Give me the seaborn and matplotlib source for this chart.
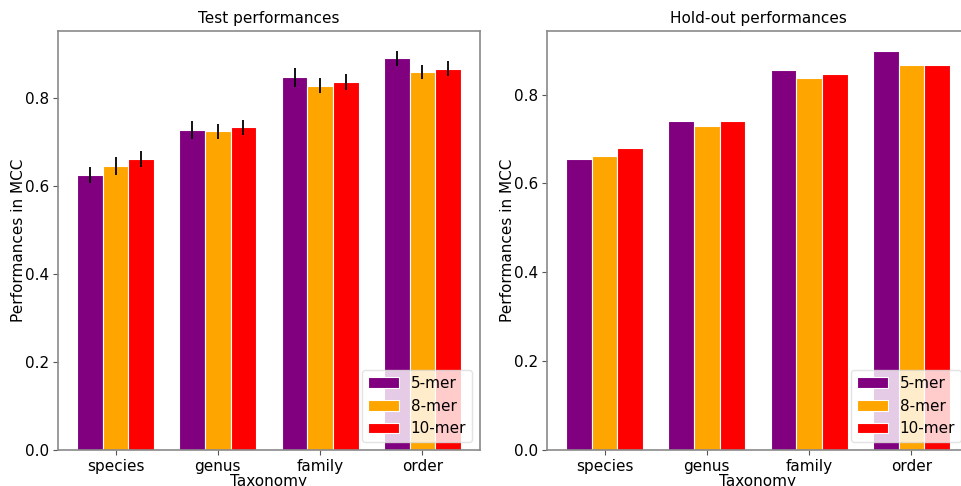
import numpy as np
import pandas as pd
import matplotlib
matplotlib.use("Agg")
import matplotlib.pyplot as plt
import seaborn as sns

# Taxonomic levels and k-mer sizes
taxonomy = ["species", "genus", "family", "order"]
kmers = ["5-mer", "8-mer", "10-mer"]
colors = ["#800080", "#FFA500", "#FF0000"]

# Test set: mean MCC and standard deviation per k-mer size
test_5mer = [0.624, 0.727, 0.846, 0.889]
test_8mer = [0.645, 0.724, 0.827, 0.858]
test_10mer = [0.660, 0.733, 0.836, 0.866]
test_err_5mer = [0.018, 0.020, 0.021, 0.017]
test_err_8mer = [0.020, 0.017, 0.017, 0.016]
test_err_10mer = [0.018, 0.017, 0.018, 0.018]

# Hold-out set: MCC per k-mer size
hold_5mer = [0.654, 0.741, 0.855, 0.898]
hold_8mer = [0.661, 0.728, 0.837, 0.866]
hold_10mer = [0.680, 0.740, 0.847, 0.866]


def long_table(v5, v8, v10):
    rows = []
    for k, vals in zip(kmers, [v5, v8, v10]):
        for t, v in zip(taxonomy, vals):
            rows.append({"Taxonomy": t, "k": k, "MCC": v})
    return pd.DataFrame(rows)


sns.set_style("white")
plt.rcParams["font.family"] = ["DejaVu Sans"]
plt.rcParams["font.size"] = 11
plt.rcParams["text.color"] = "black"
plt.rcParams["axes.labelcolor"] = "black"
plt.rcParams["xtick.color"] = "black"
plt.rcParams["ytick.color"] = "black"

fig = plt.figure(figsize=(9.62, 4.86), dpi=100)
W, H = 962, 486
ax1 = fig.add_axes([58 / W, 36 / H, 422 / W, 419 / H])
ax2 = fig.add_axes([547 / W, 36 / H, 422 / W, 419 / H])

width = 0.75
offsets = np.array([-1, 0, 1]) * width / 3


def draw(ax, df, title, errs=None, vals=None):
    sns.barplot(data=df, x="Taxonomy", y="MCC", hue="k", order=taxonomy,
                hue_order=kmers, palette=colors, saturation=1, width=width,
                errorbar=None, edgecolor="white", linewidth=0.8, ax=ax)
    top = df["MCC"].max()
    if errs is not None:
        xs = np.arange(len(taxonomy))
        for off, v, e in zip(offsets, vals, errs):
            ax.errorbar(xs + off, v, yerr=e, fmt="none", ecolor="black",
                        elinewidth=1.3, capsize=0, zorder=5)
        top = max(max(np.array(v) + np.array(e)) for v, e in zip(vals, errs))
    span = 3 + width
    ax.set_xlim(-width / 2 - 0.05 * span, 3 + width / 2 + 0.05 * span)
    ax.set_ylim(0, top * 1.05)
    ax.set_yticks([0.0, 0.2, 0.4, 0.6, 0.8])
    ax.set_yticklabels(["0.0", "0.2", "0.4", "0.6", "0.8"])
    ax.set_title(title, fontsize=11, pad=6, color="black")
    ax.set_xlabel("Taxonomy", fontsize=11, labelpad=0)
    ax.set_ylabel("Performances in MCC", fontsize=11, labelpad=-1)
    ax.tick_params(axis="both", labelsize=11, length=3.5, width=0.8,
                   color="#555555", labelcolor="black", left=True,
                   bottom=True, pad=3)
    for s in ax.spines.values():
        s.set_color("#8a8a8a")
        s.set_linewidth(1.2)
    leg = ax.legend(loc="lower right", fontsize=11, framealpha=0.8,
                    edgecolor="#dddddd", fancybox=True)
    for t in leg.get_texts():
        t.set_color("black")


draw(ax1, long_table(test_5mer, test_8mer, test_10mer), "Test performances",
     errs=[test_err_5mer, test_err_8mer, test_err_10mer],
     vals=[test_5mer, test_8mer, test_10mer])
draw(ax2, long_table(hold_5mer, hold_8mer, hold_10mer), "Hold-out performances")

fig.savefig("out.png", dpi=100)
